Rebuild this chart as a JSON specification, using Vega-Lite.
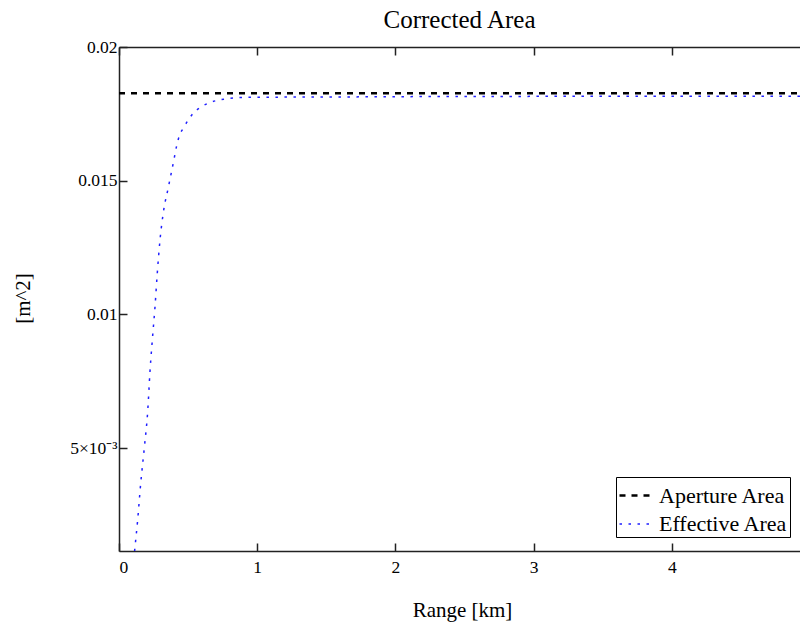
{
  "$schema": "https://vega.github.io/schema/vega-lite/v6.json",
  "autosize": {"type": "none"},
  "padding": {"left": 119, "top": 47, "right": 0, "bottom": 74},
  "width": 681,
  "height": 504,
  "background": "white",
  "config": {"view": {"stroke": null}, "font": "Liberation Serif"},
  "title": {"text": "Corrected Area", "font": "Liberation Serif", "fontSize": 25, "fontWeight": "normal", "color": "black", "baseline": "alphabetic", "offset": 18, "dy": 33},
  "datasets": {
    "aperture": [
      {"range": 0, "area": 0.01827, "series": "Aperture Area"},
      {"range": 4.927, "area": 0.01827, "series": "Aperture Area"}
    ],
    "effective": [
      {"range": 0.100, "area": 0.00047, "series": "Effective Area"},
      {"range": 0.116, "area": 0.00131, "series": "Effective Area"},
      {"range": 0.135, "area": 0.00231, "series": "Effective Area"},
      {"range": 0.157, "area": 0.00368, "series": "Effective Area"},
      {"range": 0.183, "area": 0.00500, "series": "Effective Area"},
      {"range": 0.208, "area": 0.00640, "series": "Effective Area"},
      {"range": 0.224, "area": 0.00785, "series": "Effective Area"},
      {"range": 0.244, "area": 0.00923, "series": "Effective Area"},
      {"range": 0.260, "area": 0.01025, "series": "Effective Area"},
      {"range": 0.277, "area": 0.01154, "series": "Effective Area"},
      {"range": 0.297, "area": 0.01280, "series": "Effective Area"},
      {"range": 0.321, "area": 0.01382, "series": "Effective Area"},
      {"range": 0.357, "area": 0.01475, "series": "Effective Area"},
      {"range": 0.398, "area": 0.01580, "series": "Effective Area"},
      {"range": 0.417, "area": 0.01630, "series": "Effective Area"},
      {"range": 0.436, "area": 0.01667, "series": "Effective Area"},
      {"range": 0.465, "area": 0.01696, "series": "Effective Area"},
      {"range": 0.501, "area": 0.01727, "series": "Effective Area"},
      {"range": 0.538, "area": 0.01753, "series": "Effective Area"},
      {"range": 0.586, "area": 0.01773, "series": "Effective Area"},
      {"range": 0.642, "area": 0.01789, "series": "Effective Area"},
      {"range": 0.707, "area": 0.01800, "series": "Effective Area"},
      {"range": 0.760, "area": 0.01805, "series": "Effective Area"},
      {"range": 0.827, "area": 0.01809, "series": "Effective Area"},
      {"range": 0.948, "area": 0.01812, "series": "Effective Area"},
      {"range": 1.500, "area": 0.01813, "series": "Effective Area"},
      {"range": 2.500, "area": 0.01815, "series": "Effective Area"},
      {"range": 4.927, "area": 0.01816, "series": "Effective Area"}
    ]
  },
  "layer": [
    {
      "data": {"name": "aperture"},
      "mark": {"type": "line", "clip": true},
      "encoding": {
        "x": {"field": "range", "type": "quantitative",
          "scale": {"domain": [0, 4.927], "nice": false, "zero": false},
          "axis": {"orient": "top", "title": null, "labels": false, "grid": false, "values": [0, 1, 2, 3, 4], "tickSize": -8, "tickColor": "#222", "tickWidth": 1.5, "domainColor": "#222", "domainWidth": 1.5}},
        "y": {"field": "area", "type": "quantitative",
          "scale": {"domain": [0.00115, 0.02], "nice": false, "zero": false},
          "axis": {"orient": "left", "title": "[m^2]", "grid": false, "values": [0.005, 0.01, 0.015, 0.02],
            "labelExpr": "datum.value == 0.005 ? '5×10⁻³' : format(datum.value, '~g')",
            "labelFont": "Liberation Serif", "labelFontSize": 17.5, "labelColor": "black", "labelPadding": 10,
            "tickSize": -8, "tickColor": "#222", "tickWidth": 1.5, "domainColor": "#222", "domainWidth": 1.5,
            "titleFont": "Liberation Serif", "titleFontSize": 21, "titleFontWeight": "normal", "titleColor": "black",
            "titleX": -96, "titleY": 251, "titleAngle": -90, "titleAlign": "center", "titleBaseline": "middle"}},
        "color": {"field": "series", "type": "nominal",
          "scale": {"domain": ["Aperture Area", "Effective Area"], "range": ["black", "#1f1fff"]},
          "legend": {"title": null, "orient": "none", "legendX": 497, "legendY": 430,
            "fillColor": "white", "strokeColor": "black", "padding": 2,
            "symbolType": "stroke", "symbolSize": 900, "labelFont": "Liberation Serif", "labelFontSize": 22, "labelColor": "black",
            "rowPadding": 1, "labelOffset": 8}},
        "strokeDash": {"field": "series", "type": "nominal",
          "scale": {"domain": ["Aperture Area", "Effective Area"], "range": [[6, 6], [2.5, 6.5]]}},
        "strokeWidth": {"field": "series", "type": "nominal",
          "scale": {"domain": ["Aperture Area", "Effective Area"], "range": [2.5, 1.5]}}
      }
    },
    {
      "data": {"name": "effective"},
      "mark": {"type": "line", "clip": true, "interpolate": "monotone"},
      "encoding": {
        "x": {"field": "range", "type": "quantitative",
          "scale": {"domain": [0, 4.927], "nice": false, "zero": false},
          "axis": {"orient": "bottom", "title": "Range [km]", "grid": false, "values": [0, 1, 2, 3, 4],
            "labelFont": "Liberation Serif", "labelFontSize": 17.5, "labelColor": "black", "labelPadding": 15,
            "tickSize": -8, "tickColor": "#222", "tickWidth": 1.5, "domainColor": "#222", "domainWidth": 1.5,
            "titleFont": "Liberation Serif", "titleFontSize": 21, "titleFontWeight": "normal", "titleColor": "black",
            "titleX": 343, "titleY": 59, "titleAlign": "center", "titleBaseline": "middle"}},
        "y": {"field": "area", "type": "quantitative",
          "scale": {"domain": [0.00115, 0.02], "nice": false, "zero": false}},
        "color": {"field": "series", "type": "nominal"},
        "strokeDash": {"field": "series", "type": "nominal"},
        "strokeWidth": {"field": "series", "type": "nominal"}
      }
    }
  ],
  "resolve": {"axis": {"x": "independent"}}
}
